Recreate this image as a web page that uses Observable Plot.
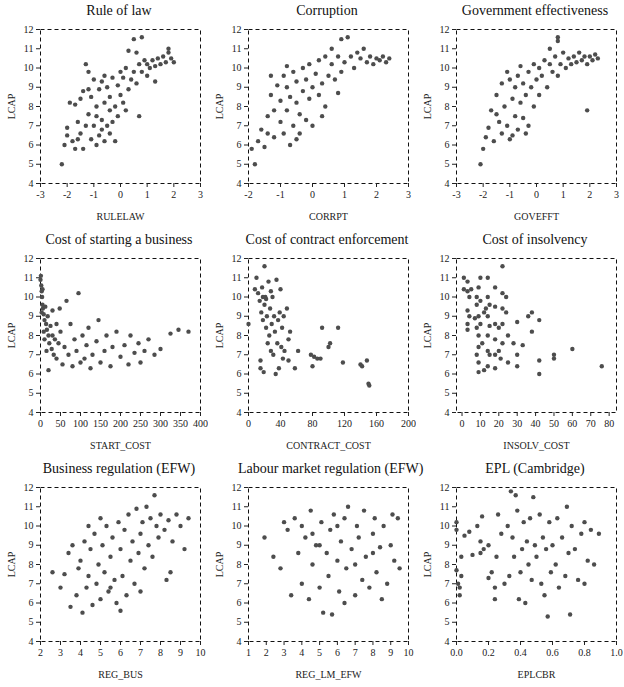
<!DOCTYPE html>
<html><head><meta charset="utf-8">
<script src="https://cdn.jsdelivr.net/npm/d3@7"></script>
<script src="https://cdn.jsdelivr.net/npm/@observablehq/plot@0.6"></script>
<style>
body{margin:0;background:#fff;font-family:"Liberation Serif",serif;}
#grid{display:grid;grid-template-columns:208px 208px 208px;width:624px;}
.cell{width:208px;height:229px;}
.t{height:20px;line-height:22px;text-align:center;font-size:14px;font-weight:normal;white-space:nowrap;padding-left:30px;box-sizing:border-box;color:#111;font-family:"Liberation Serif",serif;}
svg, svg text{font-family:"Liberation Serif",serif !important;}
</style></head><body><div id="grid"></div>
<script>
const titles=["Rule of law","Corruption","Government effectiveness","Cost of starting a business","Cost of contract enforcement","Cost of insolvency","Business regulation (EFW)","Labour market regulation (EFW)","EPL (Cambridge)"];
const xLabels=["RULELAW","CORRPT","GOVEFFT","START_COST","CONTRACT_COST","INSOLV_COST","REG_BUS","REG_LM_EFW","EPLCBR"];
const xTicks=[[-3,-2,-1,0,1,2,3],[-2,-1,0,1,2,3],[-3,-2,-1,0,1,2,3],[0,50,100,150,200,250,300,350,400],[0,40,80,120,160,200],[0,10,20,30,40,50,60,70,80],[2,3,4,5,6,7,8,9,10],[1,2,3,4,5,6,7,8,9,10],[0,0.2,0.4,0.6,0.8,1.0]];
const xDomains=[[-3,3],[-2,3],[-3,3],[0,400],[0,200],[-3,84],[2,10],[1,10],[0,1]];
const yTicks=[4,5,6,7,8,9,10,11,12];
const ruleLaw="-2.2,5.0 -2.1,6.0 -2.0,6.5 -2.0,6.9 -1.8,6.2 -1.7,5.8 -1.6,6.3 -1.5,6.6 -1.4,5.8 -1.9,8.2 -1.7,8.1 -1.5,8.4 -1.3,10.2 -1.2,9.8 -1.3,7.0 -1.2,7.6 -1.1,8.5 -1.0,9.4 -1.0,7.0 -0.9,6.0 -0.9,8.0 -0.8,8.9 -0.8,6.5 -0.7,9.3 -0.7,7.3 -0.6,8.2 -0.6,6.2 -0.5,9.0 -0.5,7.0 -0.4,8.5 -0.4,6.6 -0.3,9.5 -0.3,7.2 -0.2,8.0 -0.2,6.2 -0.1,9.1 -0.1,7.5 0,8.6 0,9.8 0.1,8.2 0.1,9.5 0.2,10.0 0.3,8.9 0.3,10.9 0.4,9.4 0.5,9.8 0.5,11.5 0.6,10.8 0.6,9.2 0.7,10.2 0.7,7.5 0.8,11.6 0.8,9.8 0.9,10.4 1.0,9.6 1.0,10.2 1.1,10.0 1.2,10.4 1.3,9.3 1.3,10.1 1.4,10.5 1.5,10.2 1.6,10.6 1.7,10.3 1.8,10.8 1.9,10.5 1.8,11.0 2.0,10.3 -1.4,8.8 -1.1,6.3 -0.6,9.6 -1.2,8.9 -0.9,7.5 -0.4,7.8 0.2,7.8 -0.7,6.8 -1.6,7.2";
const corruption="-1.9,5.8 -1.8,5.0 -1.7,6.2 -1.6,6.8 -1.5,5.9 -1.4,7.5 -1.3,8.6 -1.2,6.4 -1.1,9.1 -1.0,7.2 -1.0,8.3 -0.9,9.6 -0.9,6.6 -0.8,7.8 -0.8,9.0 -0.7,6.0 -0.7,8.5 -0.6,9.8 -0.6,7.0 -0.5,8.2 -0.5,9.3 -0.4,6.6 -0.4,7.6 -0.3,8.8 -0.3,10.0 -0.2,7.3 -0.2,9.4 -0.1,8.4 -0.1,10.2 0,9.0 0,7.0 0.1,9.7 0.2,10.4 0.2,8.6 0.3,9.2 0.4,10.6 0.4,8.0 0.5,9.6 0.6,10.2 0.6,11.0 0.7,9.4 0.8,10.6 0.9,11.5 0.9,9.8 1.0,10.3 1.1,11.6 1.2,10.6 1.3,10.0 1.4,10.8 1.5,10.5 1.6,11.0 1.7,10.3 1.8,10.6 1.9,10.2 2.0,10.5 2.1,10.4 2.2,10.6 2.3,10.3 2.4,10.5 -1.2,7.8 -0.5,6.3 -1.3,9.6 -0.8,10.1 0.3,7.5 -1.4,6.6 0.8,8.7";
const govEff="-2.1,5.0 -2.0,5.8 -1.9,6.4 -1.8,6.9 -1.7,7.8 -1.6,6.2 -1.5,8.6 -1.4,7.2 -1.3,6.6 -1.3,9.2 -1.2,8.0 -1.1,7.0 -1.0,9.4 -1.0,6.3 -0.9,8.4 -0.8,7.5 -0.8,9.0 -0.7,6.8 -0.7,9.6 -0.6,8.2 -0.5,7.4 -0.5,9.2 -0.4,8.6 -0.3,9.8 -0.3,7.0 -0.2,9.0 -0.1,8.0 -0.1,10.2 0,9.4 0.1,8.6 0.1,10.0 0.2,9.6 0.3,10.4 0.4,9.0 0.5,10.2 0.5,11.0 0.6,9.8 0.7,10.6 0.8,11.4 0.8,9.6 0.9,10.2 1.0,10.8 1.1,10.0 1.2,10.5 1.3,10.2 1.4,10.6 1.5,10.3 1.6,10.8 1.7,10.4 1.8,10.6 1.9,10.2 2.0,10.6 2.1,10.4 2.2,10.7 2.3,10.5 -1.1,9.8 -0.6,10.1 1.9,7.8 -0.9,6.5 -1.5,7.6 0.8,11.6 -0.4,6.6";
const startCost="0,10.9 1,11.1 2,10.6 3,10.3 4,10.0 5,9.6 6,9.4 8,9.1 10,8.8 12,9.5 14,8.6 16,8.3 18,9.0 20,8.0 22,7.6 25,8.5 28,7.3 30,8.0 33,7.0 36,7.8 40,6.8 45,7.6 50,8.2 55,6.5 60,7.4 65,9.8 70,7.0 75,8.6 80,6.4 85,7.8 90,7.2 95,10.2 100,6.6 105,8.0 110,6.8 115,7.5 120,8.4 125,6.3 130,7.0 140,7.7 145,8.8 150,6.6 160,7.2 165,8.0 175,6.4 180,7.4 190,8.2 200,6.9 210,7.5 220,6.5 225,8.0 235,7.1 245,7.6 250,6.6 260,7.2 270,7.8 285,7.0 300,7.3 325,8.1 345,8.3 370,8.2 5,10.4 8,8.2 15,7.2 3,9.2 20,6.2 30,9.3 10,7.8 40,8.6 48,9.4";
const contractCost="0,8.6 8,10.4 10,11.0 12,10.2 14,9.8 15,6.7 15,6.3 16,9.2 17,10.5 18,8.8 19,6.1 20,11.6 20,9.6 21,10.0 22,8.4 23,9.0 24,7.6 25,10.8 26,8.0 27,9.4 28,7.2 29,8.6 30,10.0 31,7.0 32,9.0 33,8.2 34,6.0 35,10.9 36,7.6 37,8.8 38,6.3 39,9.2 40,10.4 41,7.4 42,8.4 43,6.8 44,9.0 45,7.2 48,9.4 50,7.8 50,6.7 52,8.2 58,6.3 62,7.2 78,7.0 80,6.4 82,6.9 86,6.8 90,6.8 92,8.4 100,7.4 102,7.6 112,8.4 118,6.6 140,6.5 142,6.4 148,6.7 150,5.5 151,5.4 22,9.9 28,10.3 18,10.0";
const insolvCost="1,11.0 1,10.4 3,10.8 3,10.3 3,9.3 3,8.6 3,8.3 4,10.0 4,9.0 5,10.4 7,8.9 8,10.0 8,9.6 8,8.4 8,7.0 9,10.5 9,9.0 9,8.0 9,7.4 9,6.6 9,6.1 10,11.0 10,9.8 10,8.6 11,7.6 12,9.2 12,6.2 13,9.4 14,11.0 14,10.0 14,9.0 14,8.0 14,7.2 14,6.4 15,9.6 15,8.5 15,7.0 18,10.5 18,9.5 18,8.6 18,7.8 18,7.0 18,6.3 20,8.4 20,7.2 21,6.8 22,11.6 22,10.2 22,9.4 22,8.6 22,7.6 24,10.0 24,9.2 25,8.0 25,6.6 28,7.6 30,8.7 30,7.0 30,6.4 33,7.5 36,9.0 38,9.2 38,8.2 42,8.8 42,6.7 42,6.0 50,7.0 50,6.8 60,7.3 76,6.4";
const regBus="3.2,7.5 3.4,8.6 3.5,5.8 3.6,9.0 3.8,6.4 3.9,7.8 4.0,8.2 4.1,5.5 4.2,9.2 4.3,6.8 4.4,7.4 4.5,8.8 4.6,5.9 4.7,9.6 4.8,7.0 4.9,8.0 5.0,6.2 5.1,9.0 5.2,7.6 5.3,10.0 5.4,6.6 5.5,8.4 5.6,9.4 5.7,7.2 5.8,6.0 5.9,10.2 6.0,8.8 6.1,7.4 6.2,9.8 6.3,6.4 6.4,10.6 6.5,8.2 6.6,9.2 6.7,7.0 6.8,10.9 6.9,8.6 7.0,9.6 7.1,10.2 7.2,7.8 7.3,11.0 7.4,9.0 7.5,10.4 7.6,8.4 7.7,11.6 7.8,10.0 7.9,9.4 8.0,10.6 8.2,9.8 8.4,10.3 8.6,9.2 8.8,10.6 9.0,10.0 9.2,8.8 9.4,10.4 3.0,6.8 2.6,7.6 4.4,10.0 5.0,10.4 6.0,5.6 5.5,6.8 8.3,7.2 7.0,6.6 8.5,7.6";
const regLm="1.9,9.4 2.4,8.4 2.8,7.8 3.2,9.8 3.4,6.4 3.6,10.4 3.8,8.6 4.0,7.0 4.2,9.4 4.4,6.2 4.5,10.8 4.6,8.0 4.8,9.0 5.0,6.8 5.1,10.2 5.2,5.5 5.4,8.6 5.5,7.4 5.6,9.8 5.8,10.6 6.0,8.2 6.1,6.6 6.2,9.2 6.4,10.4 6.5,7.8 6.6,11.0 6.8,8.8 7.0,6.4 7.1,10.0 7.2,9.4 7.4,7.2 7.5,10.8 7.6,8.4 7.8,6.8 8.0,9.6 8.1,10.4 8.2,7.6 8.4,8.9 8.5,6.2 8.6,10.0 8.8,7.0 9.0,9.0 9.1,10.6 9.2,8.2 9.4,10.4 9.5,7.8 3.0,10.2 4.0,10.0 5.0,9.0 6.0,10.0 7.0,8.0 8.0,8.6 5.7,5.4 6.4,6.0 4.6,9.6";
const eplCbr="0.0,10.2 0.0,9.8 0.0,7.7 0.01,7.0 0.02,6.4 0.02,6.8 0.03,7.4 0.03,8.4 0.05,9.5 0.08,9.7 0.1,8.5 0.13,10.0 0.15,8.6 0.15,9.2 0.16,10.5 0.17,8.8 0.2,9.0 0.2,7.3 0.22,7.6 0.24,6.2 0.24,6.8 0.25,8.4 0.26,10.6 0.28,9.6 0.3,7.0 0.32,10.0 0.33,7.4 0.34,11.8 0.35,9.4 0.36,8.4 0.37,11.6 0.38,10.8 0.39,6.2 0.4,7.6 0.41,8.8 0.42,10.2 0.43,6.0 0.44,9.2 0.45,8.0 0.46,10.4 0.47,7.2 0.48,11.5 0.49,9.0 0.5,8.4 0.52,10.6 0.53,7.0 0.54,9.4 0.55,6.4 0.56,8.8 0.57,5.3 0.58,10.2 0.59,7.6 0.6,9.0 0.62,8.0 0.63,10.4 0.64,6.8 0.66,9.4 0.68,7.4 0.69,11.0 0.7,8.6 0.71,5.4 0.72,10.0 0.74,8.8 0.76,7.2 0.78,9.6 0.8,10.2 0.8,7.0 0.82,8.2 0.84,9.8 0.86,8.0 0.89,9.6";
const series=[ruleLaw,corruption,govEff,startCost,contractCost,insolvCost,regBus,regLm,eplCbr];
const parse=s=>s.trim().split(/\s+/).map(p=>{const [x,y]=p.split(",").map(Number);return {x,y};});
const grid=document.getElementById("grid");
series.forEach((s,i)=>{
  const cell=document.createElement("div");cell.className="cell";
  const t=document.createElement("div");t.className="t";t.textContent=titles[i];cell.appendChild(t);
  const fmt=i===8?d3.format(".1f"):d=>String(d);
  const plot=Plot.plot({
    width:208,height:209,marginLeft:40,marginRight:8,marginTop:9,marginBottom:46,
    style:{fontSize:"10px",fontFamily:"Liberation Serif, serif",color:"#222",background:"#fff"},
    x:{domain:xDomains[i],ticks:xTicks[i],tickFormat:fmt},
    y:{domain:[4,12],ticks:yTicks},
    marks:[
      Plot.frame({stroke:"#111",strokeDasharray:"4,3"}),
      Plot.axisX({ticks:xTicks[i],tickSize:4,tickPadding:3,label:xLabels[i],labelAnchor:"center",labelArrow:"none",labelOffset:36,tickFormat:fmt}),
      Plot.axisY({ticks:yTicks,tickSize:4,tickPadding:3,label:"LCAP",labelAnchor:"center",labelArrow:"none",labelOffset:33}),
      Plot.dot(parse(s),{x:"x",y:"y",r:2.2,fill:"#4d4d4d",stroke:"none"})
    ]
  });
  cell.appendChild(plot);grid.appendChild(cell);
});
</script></body></html>
